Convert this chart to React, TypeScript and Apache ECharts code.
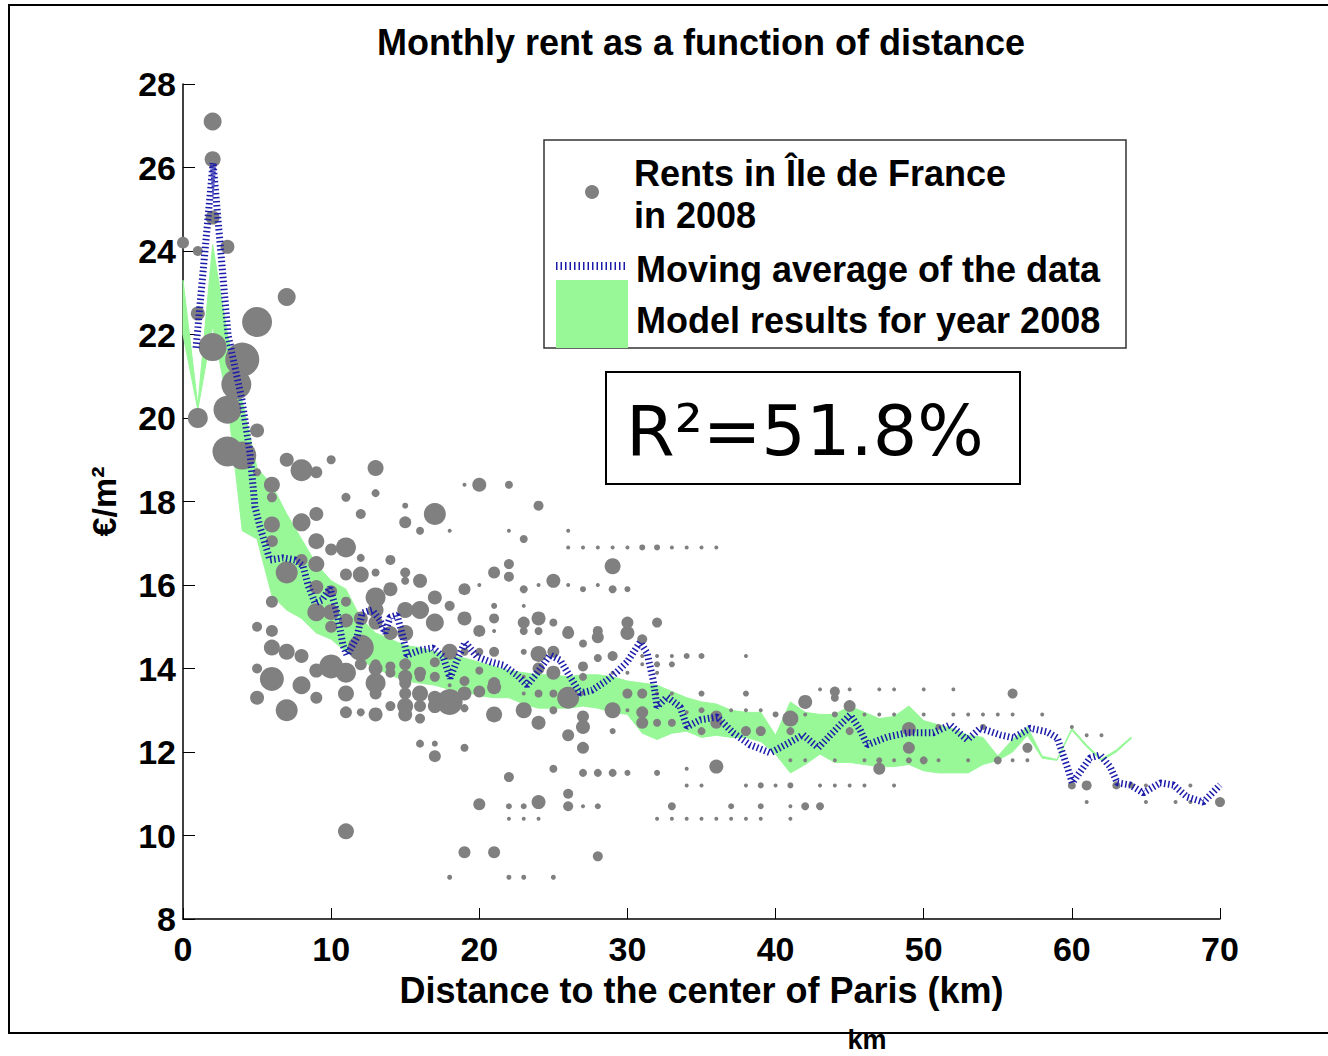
import React, { useEffect, useRef } from "react";
import * as echarts from "echarts";

// ---------- texts ----------
const TITLE = "Monthly rent as a function of distance";
const X_NAME = "Distance to the center of Paris (km)";
const Y_NAME = "€/m²";
const LEGEND_RENTS_1 = "Rents in Île de France";
const LEGEND_RENTS_2 = "in 2008";
const LEGEND_MA = "Moving average of the data";
const LEGEND_MODEL = "Model results for year 2008";
const R2_TEXT = "R²=51.8%";
const BOTTOM_TEXT = "km";

// ---------- axes ----------
const X_MIN = 0;
const X_MAX = 70;
const X_STEP = 10;
const Y_MIN = 8;
const Y_MAX = 28;
const Y_STEP = 2;

// ---------- observed rents: [km, €/m², marker size] ----------
const rentPoints: number[][] = [
  [0, 24.2, 12], [1, 24.0, 10], [1, 22.5, 14], [1, 20.0, 20],
  [2, 27.1, 18], [2, 26.2, 16], [2, 24.8, 14], [2, 21.7, 28],
  [3, 24.1, 14], [4, 21.4, 34], [3.6, 20.8, 30], [3, 20.2, 28],
  [5, 22.3, 30], [7, 22.9, 18], [5, 19.7, 14], [3, 19.2, 30], [4, 19.1, 28],
  [5, 18.7, 8], [6, 18.4, 16], [6, 18.1, 10], [7, 19.0, 14], [8, 18.75, 22], [9, 18.7, 12], [10, 19.0, 9],
  [13, 18.8, 16], [13, 18.2, 8], [11, 18.1, 9], [12, 17.7, 10], [9, 17.7, 14], [8, 17.5, 18], [6, 17.45, 16],
  [6, 17.05, 12], [9, 17.05, 16], [10, 16.85, 12], [11, 16.9, 20], [12, 16.65, 8], [7, 16.3, 22], [8, 16.6, 12],
  [9, 16.5, 16], [9, 15.95, 14], [10, 15.85, 12], [9, 15.35, 18], [11, 16.25, 12], [12, 16.25, 16], [13, 16.3, 8],
  [6, 15.6, 12], [10, 15.35, 16], [11, 15.6, 10], [11, 15.15, 14], [12, 14.5, 26], [13, 15.7, 20],
  [5, 15.0, 10], [6, 14.9, 12], [6, 14.5, 16], [7, 14.4, 16], [8, 14.3, 14], [5, 14.0, 10], [6, 13.75, 24],
  [8, 13.6, 18], [9, 13.95, 14], [10, 14.05, 24], [11, 13.9, 20], [9, 13.3, 12], [11, 13.4, 16], [5, 13.3, 14],
  [7, 13.0, 22], [11, 10.1, 16], [10, 15.0, 12], [13, 15.4, 16],
  [17, 17.7, 22], [15, 17.5, 12], [15, 17.9, 6], [16, 17.3, 8], [18, 17.3, 4], [19, 18.4, 4], [20, 18.4, 14],
  [14, 16.6, 10], [15, 16.3, 10], [15, 16.1, 8], [16, 16.1, 14], [21, 16.3, 12], [14, 15.9, 14], [17, 15.7, 14],
  [18, 15.5, 10], [19, 15.9, 12], [20, 16.0, 4], [21, 15.5, 6], [21, 15.2, 10], [15, 15.4, 16], [16, 15.4, 18],
  [19, 15.2, 14], [20, 14.9, 12], [21, 14.9, 4], [12, 15.2, 14], [14, 14.85, 14], [15, 14.85, 16], [13, 15.1, 14],
  [17, 15.1, 18], [13, 14.1, 10], [14, 13.9, 10], [15, 13.8, 14], [16, 13.8, 10], [17, 14.15, 10], [18, 14.4, 16],
  [19, 14.4, 8], [19, 13.7, 10], [20, 13.45, 12], [21, 13.65, 12], [21, 14.4, 10], [12, 14.1, 12], [13, 14.0, 14],
  [14, 14.05, 10], [15, 14.1, 12], [16, 13.9, 12], [20, 13.95, 8], [13, 13.65, 20], [15, 13.65, 12], [16, 13.4, 16],
  [17, 13.8, 10], [18, 13.6, 4], [19, 13.4, 14], [21, 13.55, 14], [13, 13.4, 12], [15, 13.4, 12], [17, 13.3, 14],
  [18, 13.2, 26], [14, 13.1, 10], [15, 13.1, 16], [16, 13.1, 12], [17, 13.1, 14], [19, 13.05, 8], [11, 12.95, 12],
  [12, 12.95, 8], [13, 12.9, 14], [15, 12.9, 14], [16, 12.8, 10], [21, 12.9, 16], [16, 12.2, 8], [17, 12.2, 6],
  [19, 12.1, 8], [17, 11.9, 12], [20, 10.75, 12], [19, 9.6, 12], [21, 9.6, 12], [18, 9.0, 5], [22, 9.0, 5], [23, 9.0, 5],
  [25, 9.0, 5], [28, 9.5, 10], [22, 11.4, 10], [26, 11.0, 10],
  [22, 18.4, 8], [24, 17.9, 10], [22, 17.3, 4], [26, 17.3, 4], [23, 17.1, 8],
  [26, 16.9, 4], [27, 16.9, 4], [28, 16.9, 4], [29, 16.9, 4], [30, 16.9, 4], [31, 16.9, 6], [32, 16.9, 6],
  [33, 16.9, 4], [34, 16.9, 4], [35, 16.9, 4], [36, 16.9, 4],
  [29, 16.45, 16], [22, 16.5, 10], [22, 16.2, 10], [25, 16.1, 14], [23, 15.9, 8], [24, 16.0, 4], [26, 16.0, 4],
  [27, 15.9, 6], [28, 16.0, 4], [29, 15.9, 8], [30, 15.9, 6],
  [23, 15.5, 4], [23, 15.1, 12], [24, 15.2, 14], [25, 15.1, 8], [26, 14.9, 10], [28, 14.9, 10], [23, 14.9, 8],
  [24, 14.9, 8], [30, 15.1, 12], [30, 14.85, 14], [32, 15.1, 10], [26, 14.85, 12], [28, 14.75, 12], [31, 14.7, 10], [27, 14.6, 8],
  [20, 14.4, 8], [23, 14.4, 6], [24, 14.35, 16], [25, 14.4, 12], [27, 14.05, 10], [28, 14.25, 8], [29, 14.3, 10],
  [31, 14.3, 4], [32, 14.3, 4], [33, 14.3, 4], [34, 14.3, 6], [35, 14.3, 6], [38, 14.3, 4], [32, 14.1, 6], [33, 14.1, 6], [31, 14.1, 4],
  [24, 14.0, 12], [25, 13.9, 14], [23, 13.8, 4], [27, 13.8, 8], [29, 13.9, 4], [30, 13.9, 4], [32, 13.9, 4],
  [26, 13.3, 22], [23, 13.4, 4], [24, 13.4, 8], [25, 13.4, 8], [27, 13.4, 4], [30, 13.4, 10], [31, 13.4, 10],
  [32, 13.4, 4], [33, 13.4, 4], [35, 13.4, 6], [38, 13.4, 6],
  [23, 13.0, 16], [25, 13.0, 8], [27, 12.85, 12], [27, 12.6, 14], [29, 13.0, 16], [30, 13.0, 4], [31, 12.95, 12],
  [31, 12.7, 12], [32, 12.7, 8], [33, 12.7, 8], [34, 12.95, 4], [35, 13.0, 6], [36, 12.85, 12], [36, 12.7, 12],
  [37, 13.0, 4], [38, 13.0, 4], [39, 13.0, 4], [40, 12.9, 6],
  [24, 12.7, 14], [26, 12.4, 12], [27, 12.1, 12], [29, 12.5, 6], [25, 11.6, 8], [27, 11.5, 8], [28, 11.5, 8],
  [29, 11.5, 8], [30, 11.5, 6], [32, 11.5, 6], [34, 11.6, 4], [36, 11.65, 14],
  [22, 10.7, 6], [23, 10.7, 6], [24, 10.8, 14], [26, 10.7, 10], [27, 10.7, 4], [28, 10.7, 6], [33, 10.7, 8],
  [37, 10.7, 6], [39, 10.7, 6],
  [34, 11.2, 4], [35, 11.2, 4], [38, 11.2, 4], [39, 11.2, 6], [40, 11.2, 4], [41, 11.2, 6], [43, 11.2, 4],
  [44, 11.2, 4], [45, 11.2, 4], [46, 11.2, 4], [48, 11.2, 4],
  [22, 10.4, 4], [23, 10.4, 4], [24, 10.4, 4], [32, 10.4, 4], [33, 10.4, 4], [34, 10.4, 4], [35, 10.4, 4],
  [36, 10.4, 4], [37, 10.4, 4], [38, 10.4, 4], [39, 10.4, 4], [41, 10.4, 4],
  [43, 13.5, 4], [44, 13.45, 10], [44, 13.3, 8], [45, 13.5, 4], [47, 13.5, 4], [48, 13.5, 4], [50, 13.5, 4], [52, 13.5, 4],
  [42, 13.2, 14], [45, 13.1, 12], [41, 12.8, 16], [42, 12.9, 4], [44, 12.9, 6], [46, 12.9, 4], [47, 12.9, 4],
  [48, 12.9, 4], [50, 12.9, 4], [52, 12.9, 4], [53, 12.9, 4], [54, 12.9, 4], [55, 12.9, 4], [56, 12.9, 4], [58, 12.9, 4],
  [35, 12.5, 8], [38, 12.5, 10], [39, 12.5, 10], [41, 12.5, 8], [45, 12.5, 8], [49, 12.55, 14], [51, 12.6, 6],
  [54, 12.6, 6], [49, 12.1, 12], [57, 12.1, 10],
  [50, 11.8, 8], [49, 11.8, 6], [41, 11.8, 4], [42, 11.8, 4], [44, 11.8, 4], [46, 11.8, 4], [47, 11.8, 6],
  [48, 11.8, 4], [51, 11.8, 4], [53, 11.8, 4], [55, 11.8, 8], [56, 11.8, 4], [57, 11.8, 4],
  [47, 11.6, 12], [60, 11.2, 8], [61, 11.2, 10], [63, 11.2, 8], [64, 11.2, 6], [65, 11.2, 4], [68, 11.2, 4],
  [42, 10.7, 8], [43, 10.7, 8], [41, 10.7, 4], [61, 10.8, 4], [65, 10.8, 4], [67, 10.8, 4], [68, 10.8, 4], [70, 10.8, 10],
  [56, 13.4, 10], [60, 12.6, 4], [61, 12.4, 4], [62, 12.4, 4],
];

// ---------- moving average ----------
const maKm = [
  0.88, 2.03, 3.04, 3.98, 4.52, 4.86, 5.2, 5.87, 6.75, 7.56, 8.1, 8.44, 8.91, 9.39, 9.93, 10.4, 10.8, 11.07,
  11.75, 12.09, 12.76, 13.3, 13.64, 13.98, 14.45, 14.85, 15.12, 16.0, 16.88, 17.56, 18.03, 18.5, 19.04, 19.85,
  20.73, 21.61, 22.55, 23.23, 23.9, 24.78, 25.46, 26.13, 26.81, 27.62, 28.63, 29.3, 29.98, 30.86, 31.33, 31.74,
  32.0, 32.68, 33.56, 34.03, 34.91, 36.06, 37.14, 38.28, 39.64, 40.65, 41.86, 42.88, 44.36, 45.04, 45.71, 46.18,
  47.54, 48.89, 50.64, 51.79, 52.94, 53.82, 55.17, 56.04, 57.19, 58.34, 59.01, 59.69, 60.03, 61.24, 61.92, 62.59,
  63.07, 63.94, 64.82, 65.97, 66.85, 67.79, 68.87, 70.0,
];
const maValue = [
  21.68, 26.11, 21.99, 20.43, 19.16, 17.87, 17.39, 16.6, 16.65, 16.6, 16.46, 16.0, 15.57, 15.64, 15.93, 15.33, 14.56, 14.32,
  14.75, 15.33, 15.4, 15.16, 14.85, 15.23, 15.28, 14.75, 14.32, 14.44, 14.49, 14.28, 13.77, 14.2, 14.63, 14.28,
  14.16, 14.08, 13.84, 13.6, 13.89, 14.32, 14.2, 13.8, 13.41, 13.48, 13.72, 13.92, 14.16, 14.63, 14.37, 13.72,
  13.08, 13.32, 13.08, 12.6, 12.77, 12.84, 12.46, 12.17, 11.98, 12.17, 12.41, 12.1, 12.65, 12.89, 12.53, 12.17,
  12.36, 12.46, 12.46, 12.65, 12.29, 12.57, 12.41, 12.34, 12.57, 12.48, 12.34, 11.64, 11.26, 11.86, 11.93, 11.64,
  11.26, 11.21, 11.02, 11.26, 11.21, 10.92, 10.8, 11.21,
];

// ---------- model band ----------
const bandKm = [
  0, 1, 2, 3, 4, 5, 6, 7, 8, 9, 10, 11, 12, 13, 14, 15, 16, 17, 18, 19, 20, 21, 22, 23, 24, 25, 26, 27, 28, 29, 30, 31,
  32, 33, 34, 35, 36, 37, 38, 39, 40, 41, 42, 43, 44, 45, 46, 47, 48, 49, 50, 51, 52, 53, 54, 55, 56, 57, 58, 59, 60,
  61, 62, 63, 64,
];
const bandUpper = [
  23.3, 20.3, 24.15, 22.0, 20.4, 18.8, 18.4, 17.7, 17.1, 16.5, 16.1, 15.9, 15.2, 14.85, 14.7, 14.55, 14.5, 14.4, 14.3,
  14.25, 14.15, 14.05, 13.95, 13.9, 13.85, 13.85, 13.8, 13.85, 13.85, 13.8, 13.7, 13.65, 13.6, 13.45, 13.3, 13.2,
  13.15, 13.0, 12.95, 12.95, 12.4, 13.2, 12.95, 12.9, 12.9, 13.1, 12.95, 12.8, 12.85, 13.1, 12.75, 12.65, 12.55,
  12.4, 12.35, 11.9, 12.3, 12.6, 11.9, 11.82, 12.57, 12.17, 11.83, 12.05, 12.36,
];
const bandLower = [
  22.0, 20.2, 22.2, 20.4, 17.3, 17.1, 15.75, 15.4, 15.2, 14.85, 14.7, 14.4, 14.2, 14.0, 13.85, 13.7, 13.65, 13.6, 13.5,
  13.45, 13.35, 13.3, 13.3, 13.15, 13.05, 13.05, 13.05, 13.1, 13.05, 12.95, 12.9, 12.45, 12.3, 12.45, 12.5, 12.35,
  12.4, 12.35, 12.35, 12.25, 11.95, 11.5, 11.7, 11.95, 11.75, 11.75, 11.7, 11.65, 11.65, 11.7, 11.55, 11.5, 11.5,
  11.5, 11.7, 11.8, 12.0, 12.4, 11.85, 11.8, 12.52, 12.12, 11.79, 12.0, 12.32,
];

// ---------- styles ----------
const GREY = "#808080";
const BLUE = "#1c1caa";
const GREEN = "#98f898";
const FONT = "'Liberation Sans', Arial, sans-serif";

export default function App() {
  const ref = useRef<HTMLDivElement>(null);

  useEffect(() => {
    if (!ref.current) return;
    const chart = echarts.init(ref.current, null, { renderer: "svg" });

    const bandData = bandKm.map((k, i) => [k, bandLower[i], bandUpper[i]]);
    const maData = maKm.map((k, i) => [k, maValue[i]]);

    const option: any = {
      animation: false,
      backgroundColor: "#ffffff",
      grid: { left: 183, right: 108, top: 84, bottom: 137, containLabel: false },
      xAxis: {
        type: "value",
        min: X_MIN,
        max: X_MAX,
        interval: X_STEP,
        name: X_NAME,
        nameLocation: "middle",
        nameGap: 53,
        nameTextStyle: { fontFamily: FONT, fontWeight: "bold", fontSize: 36, color: "#000" },
        axisLine: { show: true, lineStyle: { color: "#000", width: 1.5 } },
        axisTick: { show: true, inside: true, length: 11, lineStyle: { color: "#000", width: 1 } },
        axisLabel: { fontFamily: FONT, fontWeight: "bold", fontSize: 34, color: "#000", margin: 13 },
        splitLine: { show: false },
      },
      yAxis: {
        type: "value",
        min: Y_MIN,
        max: Y_MAX,
        interval: Y_STEP,
        name: Y_NAME,
        nameLocation: "middle",
        nameGap: 62,
        nameRotate: 90,
        nameTextStyle: { fontFamily: FONT, fontWeight: "bold", fontSize: 34, color: "#000" },
        axisLine: { show: true, lineStyle: { color: "#000", width: 1.5 } },
        axisTick: { show: true, inside: true, length: 12, lineStyle: { color: "#000", width: 1 } },
        axisLabel: { fontFamily: FONT, fontWeight: "bold", fontSize: 34, color: "#000", margin: 7 },
        splitLine: { show: false },
      },
      series: [
        {
          type: "custom",
          name: LEGEND_MODEL,
          silent: true,
          z: 1,
          data: bandData,
          encode: { x: 0, y: [1, 2] },
          renderItem: (params: any, api: any) => {
            if (params.dataIndex !== 0) return null;
            const pts: number[][] = [];
            for (let i = 0; i < bandKm.length; i++) pts.push(api.coord([bandKm[i], bandUpper[i]]));
            for (let i = bandKm.length - 1; i >= 0; i--) pts.push(api.coord([bandKm[i], bandLower[i]]));
            return {
              type: "polygon",
              shape: { points: pts },
              style: { fill: GREEN, stroke: GREEN, lineWidth: 1 },
            };
          },
        },
        {
          type: "scatter",
          name: LEGEND_RENTS_1,
          z: 2,
          data: rentPoints,
          symbol: "circle",
          symbolSize: (d: number[]) => d[2],
          itemStyle: { color: GREY, opacity: 1 },
          silent: true,
        },
        {
          type: "line",
          name: LEGEND_MA,
          z: 3,
          data: maData,
          showSymbol: false,
          symbol: "none",
          smooth: false,
          lineStyle: { color: BLUE, width: 7, type: [1.5, 2.5], cap: "butt" },
          silent: true,
        },
      ],
      graphic: [
        {
          type: "rect",
          shape: { x: 9, y: 5, width: 1330, height: 1028 },
          style: { fill: "none", stroke: "#000", lineWidth: 2 },
          silent: true,
        },
        {
          type: "text",
          x: 701,
          y: 42,
          style: {
            text: TITLE,
            fontFamily: FONT,
            fontWeight: "bold",
            fontSize: 36,
            fill: "#000",
            textAlign: "center",
            textVerticalAlign: "middle",
          },
        },
        {
          type: "rect",
          shape: { x: 544, y: 140, width: 582, height: 208 },
          style: { fill: "#fff", stroke: "#333", lineWidth: 1.5 },
          z: 10,
        },
        {
          type: "circle",
          shape: { cx: 592, cy: 192, r: 7 },
          style: { fill: GREY },
          z: 11,
        },
        {
          type: "line",
          shape: { x1: 556, y1: 266, x2: 626, y2: 266 },
          style: { stroke: BLUE, lineWidth: 8, lineDash: [1.5, 3], lineCap: "butt" },
          z: 11,
        },
        {
          type: "rect",
          shape: { x: 556, y: 280, width: 72, height: 68 },
          style: { fill: GREEN },
          z: 11,
        },
        {
          type: "text",
          x: 634,
          y: 173,
          z: 11,
          style: { text: LEGEND_RENTS_1, fontFamily: FONT, fontWeight: "bold", fontSize: 36, fill: "#000", textVerticalAlign: "middle" },
        },
        {
          type: "text",
          x: 634,
          y: 215,
          z: 11,
          style: { text: LEGEND_RENTS_2, fontFamily: FONT, fontWeight: "bold", fontSize: 36, fill: "#000", textVerticalAlign: "middle" },
        },
        {
          type: "text",
          x: 636,
          y: 269,
          z: 11,
          style: { text: LEGEND_MA, fontFamily: FONT, fontWeight: "bold", fontSize: 36, fill: "#000", textVerticalAlign: "middle" },
        },
        {
          type: "text",
          x: 636,
          y: 320,
          z: 11,
          style: { text: LEGEND_MODEL, fontFamily: FONT, fontWeight: "bold", fontSize: 36, fill: "#000", textVerticalAlign: "middle" },
        },
        {
          type: "rect",
          shape: { x: 606, y: 372, width: 414, height: 112 },
          style: { fill: "#fff", stroke: "#000", lineWidth: 2 },
          z: 10,
        },
        {
          type: "text",
          x: 626,
          y: 431,
          z: 11,
          style: { text: R2_TEXT, fontFamily: "'DejaVu Sans', sans-serif", fontSize: 70, fill: "#000", textVerticalAlign: "middle" },
        },
        {
          type: "text",
          x: 867,
          y: 1040,
          style: {
            text: BOTTOM_TEXT,
            fontFamily: FONT,
            fontWeight: "bold",
            fontSize: 27,
            fill: "#000",
            textAlign: "center",
            textVerticalAlign: "middle",
          },
        },
      ],
    };

    chart.setOption(option);
    return () => chart.dispose();
  }, []);

  return (
    <div
      ref={ref}
      style={{ position: "absolute", left: 0, top: 0, width: 1328, height: 1056, background: "#fff" }}
    />
  );
}
